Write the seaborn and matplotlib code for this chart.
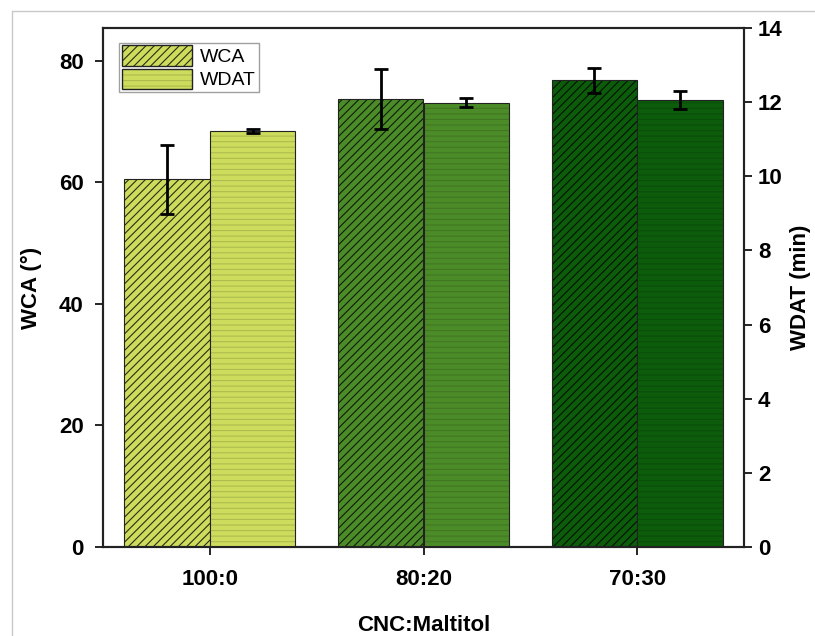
import pandas as pd
import matplotlib.pyplot as plt
import seaborn as sns
from matplotlib.patches import Patch
from matplotlib.lines import Line2D
import matplotlib.colors as mcolors


categories = ['100:0', '80:20', '70:30']
wca = [60.5, 73.7, 76.8]
wca_sd = [5.7, 5.0, 2.1]
wdat = [11.22, 11.99, 12.06]
wdat_sd = [0.05, 0.13, 0.25]
series = ['WCA', 'WDAT']
colors = ['#cddc5c', '#4c8c28', '#0c5c0c']

sns.set_style('ticks')
plt.rcParams['font.family'] = ['Liberation Sans', 'DejaVu Sans']
plt.rcParams['hatch.linewidth'] = 0.8
plt.rcParams['text.color'] = 'black'
plt.rcParams['axes.labelcolor'] = 'black'
plt.rcParams['xtick.color'] = 'black'
plt.rcParams['ytick.color'] = 'black'


def darker(c, f):
    r, g, b = mcolors.to_rgb(c)
    return (r * f, g * f, b * f)


# each axis gets both series so seaborn dodges them; the other series is zero there
df_left = pd.DataFrame({'cat': categories * 2, 'series': ['WCA'] * 3 + ['WDAT'] * 3,
                        'value': wca + [0, 0, 0]})
df_right = pd.DataFrame({'cat': categories * 2, 'series': ['WCA'] * 3 + ['WDAT'] * 3,
                         'value': [0, 0, 0] + wdat})

fig = plt.figure(figsize=(8.15, 6.36), dpi=100)
ax = fig.add_axes([103 / 815, 1 - 547 / 636, 641 / 815, 519 / 636])
ax2 = ax.twinx()

sns.barplot(data=df_left, x='cat', y='value', hue='series', hue_order=series,
            order=categories, errorbar=None, legend=False, width=0.8, ax=ax)
sns.barplot(data=df_right, x='cat', y='value', hue='series', hue_order=series,
            order=categories, errorbar=None, legend=False, width=0.8, ax=ax2)

for a, vals, sds, hatch, hf in [(ax, wca, wca_sd, '////', 0.2),
                                (ax2, wdat, wdat_sd, '---', 0.85)]:
    for p in a.patches:
        if p.get_height() <= 0:
            p.set_visible(False)
    bars = sorted([p for p in a.patches if p.get_visible()], key=lambda p: p.get_x())
    for p, c, v, sd in zip(bars, colors, vals, sds):
        p.set_facecolor(c)
        p.set_edgecolor('#222222')
        p.set_linewidth(0.8)
        p.set_hatch(hatch)
        p._hatch_color = mcolors.to_rgba(darker(c, hf))
        xc = p.get_x() + p.get_width() / 2
        a.errorbar(xc, v, yerr=sd, fmt='none', ecolor='black',
                   elinewidth=2, capsize=5, capthick=2, zorder=5)

ax.set_xlim(-0.5, 2.5)
ax.set_ylim(0, 85.4)
ax2.set_ylim(0, 14)
ax.set_yticks([0, 20, 40, 60, 80])
ax2.set_yticks(range(0, 15, 2))

ax.set_xlabel('CNC:Maltitol', fontsize=16, fontweight='bold', labelpad=18)
ax.set_ylabel('WCA (°)', fontsize=16, fontweight='bold', labelpad=12)
ax2.set_ylabel('WDAT (min)', fontsize=16, fontweight='bold', labelpad=5)

for a in (ax, ax2):
    a.tick_params(axis='both', direction='out', length=6, width=1.2, labelsize=16)
    for lab in a.get_xticklabels() + a.get_yticklabels():
        lab.set_fontweight('bold')
    for s in a.spines.values():
        s.set_visible(True)
        s.set_linewidth(1.5)
        s.set_color('#222222')
ax.tick_params(axis='x', pad=10)
ax.tick_params(axis='y', pad=8)
ax2.tick_params(axis='y', pad=4)

handles = []
for s, hatch, hf in [('WCA', '////', 0.2), ('WDAT', '---', 0.85)]:
    h = Patch(facecolor=colors[0], edgecolor='#222222', hatch=hatch, label=s)
    h._hatch_color = mcolors.to_rgba(darker(colors[0], hf))
    handles.append(h)
leg = ax.legend(handles=handles, loc='upper left', bbox_to_anchor=(0.025, 0.972),
                fontsize=14, frameon=True, fancybox=False, borderpad=0.15,
                handlelength=3.6, handleheight=1.25, handletextpad=0.4,
                labelspacing=0.12, borderaxespad=0)
leg.get_frame().set_edgecolor('#888888')
leg.get_frame().set_linewidth(1.0)

# thin screenshot frame on left and top
fig.add_artist(Line2D([12 / 815, 12 / 815], [0, 1 - 11 / 636], color='#c8c8c8', lw=1))
fig.add_artist(Line2D([12 / 815, 1], [1 - 11 / 636, 1 - 11 / 636], color='#c8c8c8', lw=1))

fig.savefig('out.png', dpi=100)
